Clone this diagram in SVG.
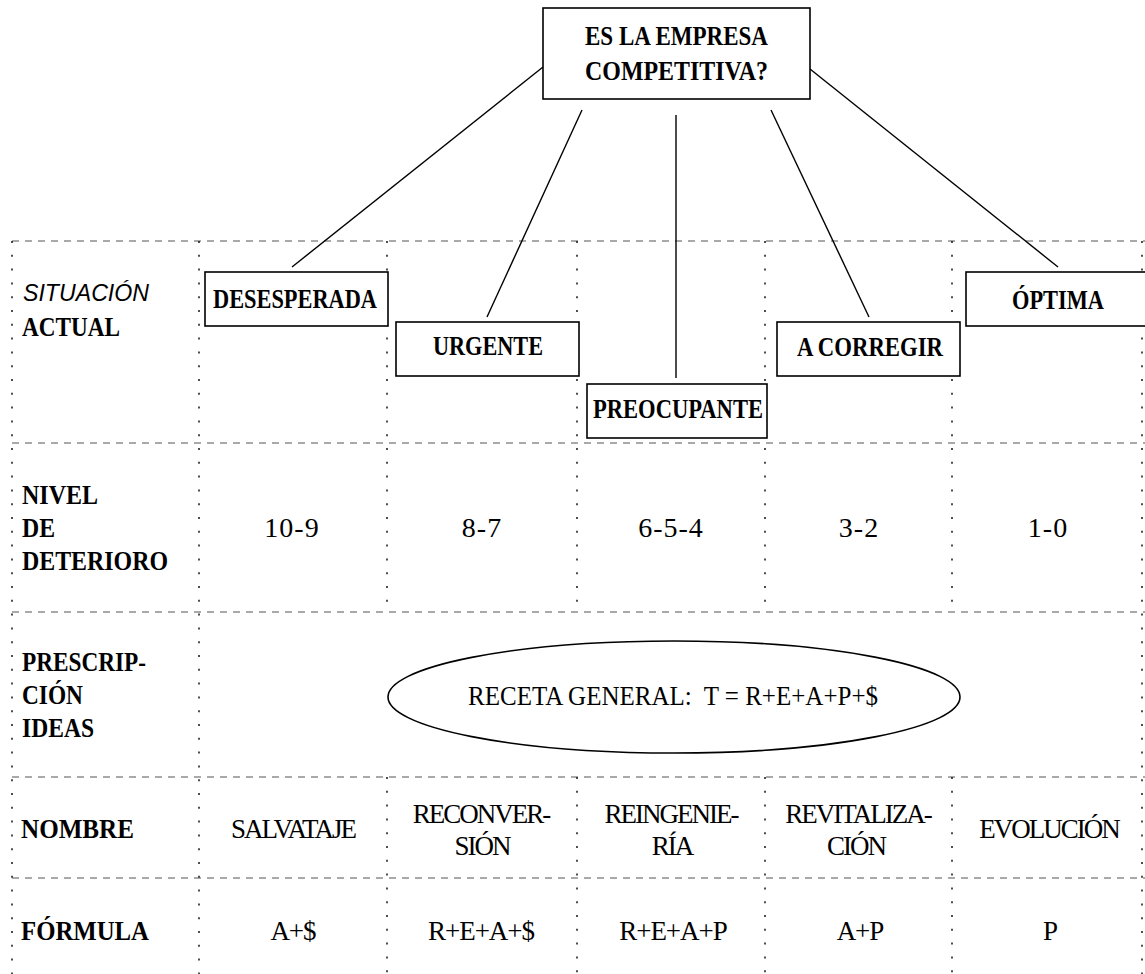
<svg xmlns="http://www.w3.org/2000/svg" width="1145" height="974" viewBox="0 0 1145 974">
<style>
.bg{fill:#fff}
.box{fill:#fff;stroke:#000;stroke-width:1.6}
.ell{fill:#fff;stroke:#000;stroke-width:1.6}
.hd{stroke:#555;stroke-width:1.2;stroke-dasharray:7 6;fill:none}
.vd{stroke:#222;stroke-width:1.6;stroke-dasharray:2 11.8;fill:none}
.con{stroke:#000;stroke-width:1.4;fill:none}
.b{font-family:"Liberation Serif","Times New Roman",serif;font-weight:bold;font-size:27px;fill:#000}
.r{font-family:"Liberation Serif","Times New Roman",serif;font-size:27px;fill:#000;letter-spacing:-2px;text-anchor:middle}
.f{font-family:"Liberation Serif","Times New Roman",serif;font-size:27px;fill:#000;letter-spacing:-1px;text-anchor:middle}
.n{font-family:"Liberation Serif","Times New Roman",serif;font-size:28px;fill:#000;letter-spacing:1px;text-anchor:middle}
.e{font-family:"Liberation Serif","Times New Roman",serif;font-size:28px;fill:#000}
.i{font-family:"Liberation Sans",Arial,sans-serif;font-style:italic;font-size:24px;fill:#000}
</style>
<rect class="bg" x="0" y="0" width="1145" height="974"/>
<g id="grid">
<line class="hd" x1="12" y1="241" x2="1145" y2="241"/>
<line class="hd" x1="12" y1="443" x2="1145" y2="443"/>
<line class="hd" x1="12" y1="612" x2="1145" y2="612"/>
<line class="hd" x1="12" y1="777" x2="1145" y2="777"/>
<line class="hd" x1="12" y1="878" x2="1145" y2="878"/>
<line class="vd" x1="12" y1="241" x2="12" y2="974"/>
<line class="vd" x1="199" y1="241" x2="199" y2="974"/>
<line class="vd" x1="1142" y1="241" x2="1142" y2="974"/>
<line class="vd" x1="387" y1="241" x2="387" y2="612"/>
<line class="vd" x1="577" y1="241" x2="577" y2="612"/>
<line class="vd" x1="765" y1="241" x2="765" y2="612"/>
<line class="vd" x1="952" y1="241" x2="952" y2="612"/>
<line class="vd" x1="387" y1="777" x2="387" y2="974"/>
<line class="vd" x1="577" y1="777" x2="577" y2="974"/>
<line class="vd" x1="765" y1="777" x2="765" y2="974"/>
<line class="vd" x1="952" y1="777" x2="952" y2="974"/>
</g>
<g id="connectors">
<line class="con" x1="543" y1="67" x2="292" y2="267"/>
<line class="con" x1="582" y1="110" x2="487" y2="317"/>
<line class="con" x1="676" y1="115" x2="676" y2="378"/>
<line class="con" x1="771" y1="110" x2="869" y2="317"/>
<line class="con" x1="810" y1="69" x2="1058" y2="267"/>
</g>
<g id="root">
<rect class="box" x="543" y="8" width="267" height="91"/>
<text class="b" x="585" y="45" textLength="183" lengthAdjust="spacingAndGlyphs">ES LA EMPRESA</text>
<text class="b" x="585" y="80" textLength="183" lengthAdjust="spacingAndGlyphs">COMPETITIVA?</text>
</g>
<g id="row-labels">
<text class="i" x="23" y="301" textLength="126" lengthAdjust="spacingAndGlyphs">SITUACIÓN</text>
<text class="b" x="22" y="336" textLength="98" lengthAdjust="spacingAndGlyphs">ACTUAL</text>
<text class="b" x="22" y="504" textLength="76" lengthAdjust="spacingAndGlyphs">NIVEL</text>
<text class="b" x="22" y="537" textLength="33" lengthAdjust="spacingAndGlyphs">DE</text>
<text class="b" x="22" y="570" textLength="146" lengthAdjust="spacingAndGlyphs">DETERIORO</text>
<text class="b" x="22" y="671" textLength="124" lengthAdjust="spacingAndGlyphs">PRESCRIP-</text>
<text class="b" x="22" y="704" textLength="61" lengthAdjust="spacingAndGlyphs">CIÓN</text>
<text class="b" x="22" y="737" textLength="72" lengthAdjust="spacingAndGlyphs">IDEAS</text>
<text class="b" x="21" y="838" textLength="113" lengthAdjust="spacingAndGlyphs">NOMBRE</text>
<text class="b" x="21" y="940" textLength="128" lengthAdjust="spacingAndGlyphs">FÓRMULA</text>
</g>
<g id="desesperada">
<rect class="box" x="205" y="272" width="183" height="54"/>
<text class="b" x="213" y="308" textLength="164" lengthAdjust="spacingAndGlyphs">DESESPERADA</text>
</g>
<g id="urgente">
<rect class="box" x="396" y="322" width="183" height="54"/>
<text class="b" x="433" y="355" textLength="110" lengthAdjust="spacingAndGlyphs">URGENTE</text>
</g>
<g id="preocupante">
<rect class="box" x="587" y="384" width="180" height="54"/>
<text class="b" x="593" y="418" textLength="170" lengthAdjust="spacingAndGlyphs">PREOCUPANTE</text>
</g>
<g id="a-corregir">
<rect class="box" x="777" y="322" width="183" height="54"/>
<text class="b" x="797" y="356" textLength="146" lengthAdjust="spacingAndGlyphs">A CORREGIR</text>
</g>
<g id="optima">
<rect class="box" x="966" y="272" width="185" height="54"/>
<text class="b" x="1012" y="309" textLength="92" lengthAdjust="spacingAndGlyphs">ÓPTIMA</text>
</g>
<g id="niveles">
<text class="n" x="292" y="537">10-9</text>
<text class="n" x="482" y="537">8-7</text>
<text class="n" x="671" y="537">6-5-4</text>
<text class="n" x="859" y="537">3-2</text>
<text class="n" x="1048" y="537">1-0</text>
</g>
<g id="receta">
<ellipse class="ell" cx="674" cy="697" rx="286" ry="56"/>
<text class="e" x="468" y="705" textLength="410" lengthAdjust="spacingAndGlyphs" xml:space="preserve">RECETA GENERAL:  T = R+E+A+P+$</text>
</g>
<g id="nombres">
<text class="r" x="293" y="838">SALVATAJE</text>
<text class="r" x="481" y="823">RECONVER-</text>
<text class="r" x="482" y="855">SIÓN</text>
<text class="r" x="671" y="823">REINGENIE-</text>
<text class="r" x="672" y="855">RÍA</text>
<text class="r" x="858" y="823">REVITALIZA-</text>
<text class="r" x="856" y="855">CIÓN</text>
<text class="r" x="1049" y="838">EVOLUCIÓN</text>
</g>
<g id="formulas">
<text class="f" x="293" y="940">A+$</text>
<text class="f" x="481" y="940">R+E+A+$</text>
<text class="f" x="673" y="940">R+E+A+P</text>
<text class="f" x="860" y="940">A+P</text>
<text class="f" x="1050" y="940">P</text>
</g>
</svg>
